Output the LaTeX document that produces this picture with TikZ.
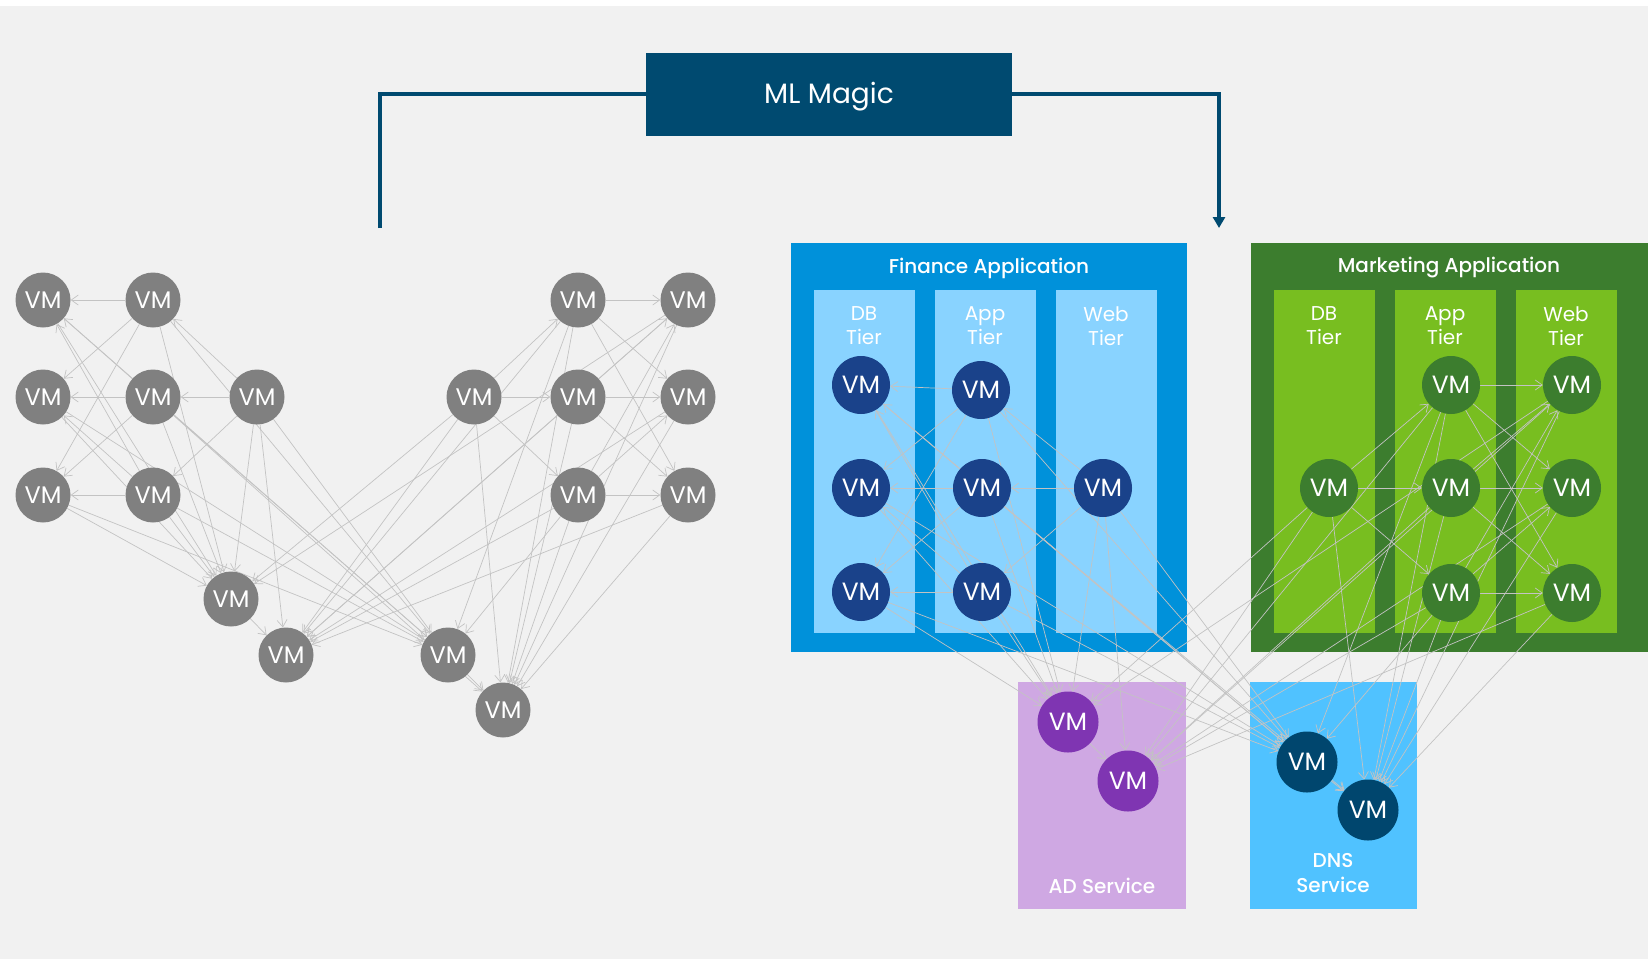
\documentclass[tikz,border=0pt]{standalone}
\usepackage{fontspec}
\setmainfont{Poppins}[BoldFont={Poppins Medium}]
\usetikzlibrary{arrows.meta,positioning}

\definecolor{mlblue}{HTML}{004A70}
\definecolor{bggray}{HTML}{F1F1F1}
\definecolor{vmgray}{HTML}{808080}
\definecolor{finblue}{HTML}{0091DA}
\definecolor{fintier}{HTML}{89D3FF}
\definecolor{finvm}{HTML}{1A428A}
\definecolor{mktgreen}{HTML}{3C7D2E}
\definecolor{mkttier}{HTML}{78BE20}
\definecolor{adlilac}{HTML}{CFA8E3}
\definecolor{advm}{HTML}{7F35B2}
\definecolor{dnsblue}{HTML}{50C2FF}
\definecolor{dnsvm}{HTML}{00466E}
\definecolor{linkgray}{HTML}{C3C3C3}

\pgfdeclarelayer{back}
\pgfdeclarelayer{mid}
\pgfsetlayers{back,mid,main}

\begin{document}
\begin{tikzpicture}[
    x=1pt, y=-1pt,
    vm/.style={circle, inner sep=0pt, minimum size=58pt, text=white,
        text height=17.4pt, text depth=0pt, font=\fontsize{25}{25}\selectfont},
    greyvm/.style={vm, fill=vmgray, minimum size=55pt, text height=16.7pt,
        font=\fontsize{24}{24}\selectfont},
    finvm/.style={vm, fill=finvm},
    mktvm/.style={vm, fill=mktgreen},
    advm/.style={vm, fill=advm, minimum size=61pt},
    dnsvm/.style={vm, fill=dnsvm, minimum size=61pt},
    apptitle/.style={text=white, font=\fontsize{20}{20}\selectfont\bfseries},
    tierlabel/.style={text=white, align=center, font=\fontsize{20}{24}\selectfont},
    svclabel/.style={text=white, align=center, font=\fontsize{20}{25}\selectfont\bfseries},
    link/.style={-{Straight Barb[length=7pt,width=10pt]}, draw=linkgray, line width=0.7pt},
    mlline/.style={draw=mlblue, line width=3.5pt}
]
    \useasboundingbox (0,0) rectangle (1648,959);

    % Background and containers
    \begin{pgfonlayer}{back}
        \fill[white] (0,0) rectangle (1648,959);
        \fill[bggray] (0,6) rectangle (1648,959);
        \fill[finblue] (791,243) rectangle (1187,652);
        \fill[fintier] (814,290) rectangle (915,633);
        \fill[fintier] (935,290) rectangle (1036,633);
        \fill[fintier] (1056,290) rectangle (1157,633);
        \fill[mktgreen] (1251,243) rectangle (1648,652);
        \fill[mkttier] (1274,290) rectangle (1375,633);
        \fill[mkttier] (1395,290) rectangle (1496,633);
        \fill[mkttier] (1516,290) rectangle (1617,633);
        \fill[adlilac] (1018,682) rectangle (1186,909);
        \fill[dnsblue] (1250,682) rectangle (1417,909);
    \end{pgfonlayer}

    % ML Magic box and its two lines
    \node[fill=mlblue, text=white, minimum width=366pt, minimum height=83pt,
        text height=19.5pt, text depth=0pt, font=\fontsize{28}{28}\selectfont]
        (magic) at (829,94) {ML Magic};
    \coordinate (before) at (380,228);
    \coordinate (after) at (1219,228);
    \draw[mlline] (before) |- (magic.west);
    \draw[mlline, -{Triangle[length=11pt,width=12pt]}] (magic.east) -| (after);

    \node[apptitle] (fintitle) at (989,268) {Finance Application};
    \node[apptitle] (mkttitle) at (1449,268) {Marketing Application};
    \node[tierlabel] (fdbtier) at (864,326) {DB\\Tier};
    \node[tierlabel] (fapptier) at (985,326) {App\\Tier};
    \node[tierlabel] (fwebtier) at (1106,326) {Web\\Tier};
    \node[tierlabel] (mdbtier) at (1324,326) {DB\\Tier};
    \node[tierlabel] (mapptier) at (1445,326) {App\\Tier};
    \node[tierlabel] (mwebtier) at (1566,326) {Web\\Tier};
    \node[svclabel] (adlabel) at (1102,886) {AD Service};
    \node[svclabel] (dnslabel) at (1333,873) {DNS\\Service};

    % VMs before grouping
    \node[greyvm] (Lfdb1) at (43,300) {VM};
    \node[greyvm] (Lfdb2) at (43,397) {VM};
    \node[greyvm] (Lfdb3) at (43,495) {VM};
    \node[greyvm] (Lfapp1) at (153,300) {VM};
    \node[greyvm] (Lfapp2) at (153,397) {VM};
    \node[greyvm] (Lfapp3) at (153,495) {VM};
    \node[greyvm] (Lfweb) at (257,397) {VM};
    \node[greyvm] (Lad1) at (231,599) {VM};
    \node[greyvm] (Lad2) at (286,655) {VM};
    \node[greyvm] (Lmdb) at (474,397) {VM};
    \node[greyvm] (Lmapp1) at (578,300) {VM};
    \node[greyvm] (Lmapp2) at (578,397) {VM};
    \node[greyvm] (Lmapp3) at (578,495) {VM};
    \node[greyvm] (Lmweb1) at (688,300) {VM};
    \node[greyvm] (Lmweb2) at (688,397) {VM};
    \node[greyvm] (Lmweb3) at (688,495) {VM};
    \node[greyvm] (Ldns1) at (448,655) {VM};
    \node[greyvm] (Ldns2) at (503,710) {VM};

    % VMs after grouping
    \node[finvm] (Rfdb1) at (861,385) {VM};
    \node[finvm] (Rfdb2) at (861,488) {VM};
    \node[finvm] (Rfdb3) at (861,592) {VM};
    \node[finvm] (Rfapp1) at (981,390) {VM};
    \node[finvm] (Rfapp2) at (982,488) {VM};
    \node[finvm] (Rfapp3) at (982,592) {VM};
    \node[finvm] (Rfweb) at (1103,488) {VM};
    \node[mktvm] (Rmdb) at (1329,488) {VM};
    \node[mktvm] (Rmapp1) at (1451,385) {VM};
    \node[mktvm] (Rmapp2) at (1451,488) {VM};
    \node[mktvm] (Rmapp3) at (1451,593) {VM};
    \node[mktvm] (Rmweb1) at (1572,385) {VM};
    \node[mktvm] (Rmweb2) at (1572,488) {VM};
    \node[mktvm] (Rmweb3) at (1572,593) {VM};
    \node[advm] (Rad1) at (1068,722) {VM};
    \node[advm] (Rad2) at (1128,781) {VM};
    \node[dnsvm] (Rdns1) at (1307,762) {VM};
    \node[dnsvm] (Rdns2) at (1368,810) {VM};

    % Same flows on both sides
    \begin{pgfonlayer}{mid}
    \foreach \s/\t in {fapp1/fdb1, fapp1/fdb2, fapp1/fdb3, fapp2/fdb1, fapp2/fdb2,
        fapp2/fdb3, fapp3/fdb1, fapp3/fdb2, fapp3/fdb3, fweb/fapp1, fweb/fapp2, fweb/fapp3,
        mdb/mapp1, mdb/mapp2, mdb/mapp3, mapp1/mweb1, mapp1/mweb2, mapp1/mweb3,
        mapp2/mweb1, mapp2/mweb2, mapp2/mweb3, mapp3/mweb1, mapp3/mweb2, mapp3/mweb3,
        fdb1/ad1, fdb2/ad1, fdb3/ad1, fapp1/ad1, fapp2/ad1, fapp3/ad1, fweb/ad1,
        fdb1/dns1, fdb2/dns1, fdb3/dns1, fapp1/dns1, fapp2/dns1, fapp3/dns1, fweb/dns1,
        mdb/ad2, mapp1/ad2, mapp2/ad2, mapp3/ad2, mweb1/ad2, mweb2/ad2, mweb3/ad2,
        mdb/dns2, mapp1/dns2, mapp2/dns2, mapp3/dns2, mweb1/dns2, mweb2/dns2, mweb3/dns2,
        ad1/ad2, dns1/dns2, mweb1/ad1, mdb/ad1, fweb/ad2, fapp2/dns2, mapp1/dns1, mapp3/dns1} {
        \draw[link] (L\s) -- (L\t);
        \draw[link] (R\s) -- (R\t);
    }
    \end{pgfonlayer}
\end{tikzpicture}
\end{document}
